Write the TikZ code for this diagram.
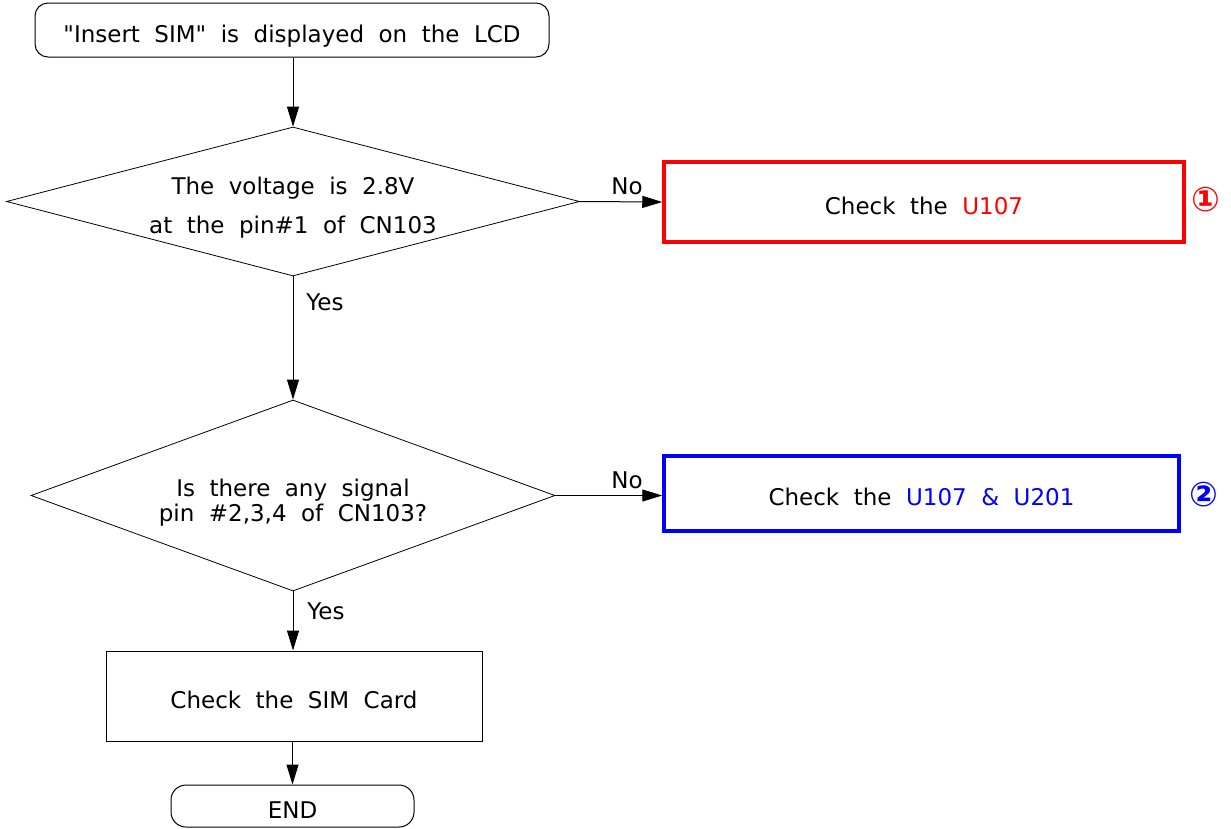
\documentclass[tikz,border=0pt]{standalone}
\usepackage{fontspec}
\setmainfont{DejaVu Sans}
\newfontfamily\qf{DejaVu Sans}
\usetikzlibrary{shapes.geometric,arrows.meta}
\definecolor{myred}{RGB}{255,0,0}
\definecolor{myblue}{RGB}{0,0,255}
\newcommand\widesp{\spaceskip 14.5pt\relax}
\newcommand\fA{\fontsize{23}{28}\selectfont\widesp}
\newcommand\fB{\fontsize{23}{39}\selectfont\widesp}
\newcommand\fC{\fontsize{23}{25}\selectfont\widesp}
\tikzset{
 base/.style={font=\fA, inner sep=0pt},
 one/.style={text height=24pt, text depth=0pt},
 term/.style={base, one, draw, rounded corners=13pt, line width=1pt},
 proc/.style={base, one, draw, line width=1pt},
 dec/.style={base, draw, diamond, line width=0.8pt, align=center, text depth=0pt},
 flag/.style={base, one, draw, line width=3.5pt},
 arr/.style={-{Triangle[length=20pt,width=12pt]}, line width=1pt},
 lbl/.style={font=\fontsize{23}{26}\selectfont, inner sep=0pt},
 num/.style={font=\fontsize{34}{36}\selectfont\bfseries, inner sep=0pt}
}
\begin{document}
\begin{tikzpicture}[x=1pt,y=-1pt]
\useasboundingbox (0,0) rectangle (1231,828);
\node[term, minimum width=514pt, minimum height=54pt] (start) at (292,30) {{\qf"}Insert SIM{\qf"} is displayed on the LCD};
\node[dec, aspect=3.846, minimum width=573pt, minimum height=149pt, font=\fB, text height=64pt] (d1) at (293,201.5) {The voltage is 2.8V\\at the pin\#1 of CN103};
\node[flag, draw=myred, minimum width=520pt, minimum height=80pt] (red) at (924,202) {Check the \textcolor{myred}{U107}};
\node[dec, aspect=2.743, minimum width=524pt, minimum height=191pt, font=\fC, text height=52pt] (d2) at (293,495.5) {Is there any signal\\pin \#2,3,4 of CN103?};
\node[flag, draw=myblue, minimum width=515pt, minimum height=75pt] (blue) at (921.5,493.5) {Check the \textcolor{myblue}{U107 \& U201}};
\node[proc, minimum width=376pt, minimum height=90pt] (sim) at (294,696) {Check the SIM Card};
\node[term, rounded corners=15pt, minimum width=243pt, minimum height=42pt] (end) at (292.5,806) {END};
\draw[arr] (start.south -| d1.north) -- (d1.north);
\draw[arr] (d1.east) -- (red.west);
\draw[arr] (d1.south) -- (d2.north);
\draw[arr] (d2.east) -- (d2.east -| blue.west);
\draw[arr] (d2.south) -- (d2.south |- sim.north);
\draw[arr] (sim.south -| end.north) -- (end.north);
\node[lbl] (no1) at (627,186) {No};
\node[lbl] (yes1) at (325,302) {Yes};
\node[lbl] (no2) at (627,480) {No};
\node[lbl] (yes2) at (326,611) {Yes};
\node[num, text=myred] (c1) at (1206,200) {①};
\node[num, text=myblue] (c2) at (1204,495) {②};
\end{tikzpicture}
\end{document}
